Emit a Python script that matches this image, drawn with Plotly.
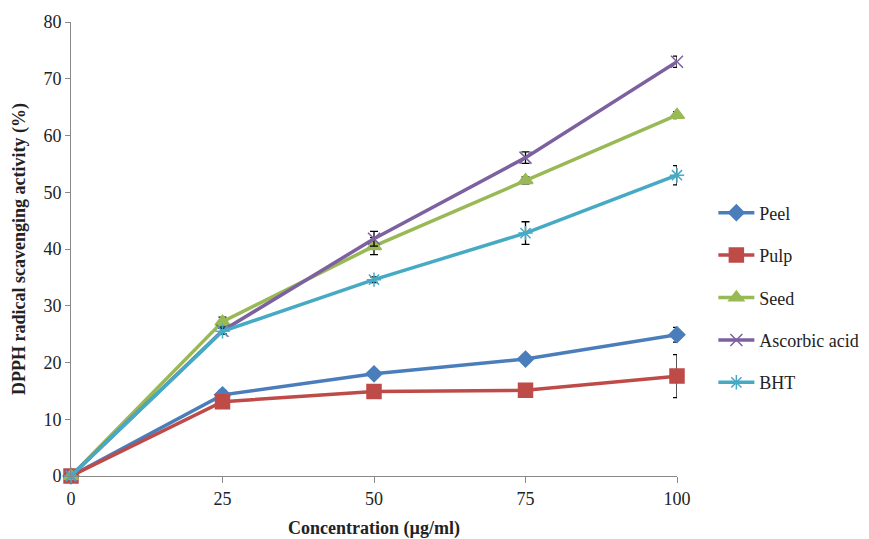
import plotly.graph_objects as go

conc = [0, 25, 50, 75, 100]
x_ticks = [0, 25, 50, 75, 100]
y_ticks = [0, 10, 20, 30, 40, 50, 60, 70, 80]

peel = [0, 14.3, 18.0, 20.6, 24.9]
peel_err = [0.3, 0.8, 0.6, 0.5, 1.3]
pulp = [0, 13.1, 14.9, 15.1, 17.6]
pulp_err = [0.3, 1.2, 0.5, 0.5, 3.8]
seed = [0, 27.2, 40.5, 52.1, 63.6]
seed_err = [0.3, 0.8, 1.5, 0.6, 0.6]
ascorbic = [0, 25.6, 41.8, 56.1, 73.0]
ascorbic_err = [0.3, 0.5, 1.3, 1.0, 1.0]
bht = [0, 25.5, 34.6, 42.8, 53.0]
bht_err = [0.3, 0.5, 0.5, 2.0, 1.7]

series = [
    ("Peel", peel, peel_err, "#4A7EBB", "diamond", 12),
    ("Pulp", pulp, pulp_err, "#BE4B48", "square", 14),
    ("Seed", seed, seed_err, "#98B954", "triangle-up", 13),
    ("Ascorbic acid", ascorbic, ascorbic_err, "#7D60A0", "x-thin", 12),
    ("BHT", bht, bht_err, "#46AAC5", "asterisk", 12),
]

fig = go.Figure()
for i, (name, vals, err, col, sym, sz) in enumerate(series):
    fig.add_trace(go.Scatter(
        x=conc, y=vals, name=name, mode="lines+markers",
        legendgroup=f"g{i}",
        line=dict(color=col, width=3.5),
        marker=dict(symbol=sym, size=sz, color=col,
                    line=dict(color=col, width=1.5)),
        error_y=dict(type="data", array=err, visible=True,
                     color="black", thickness=1.3, width=4),
        cliponaxis=False,
    ))

fig.update_layout(
    width=861, height=531,
    margin=dict(l=63, r=192, t=14, b=63, autoexpand=False),
    plot_bgcolor="white", paper_bgcolor="white",
    font=dict(family="Liberation Serif", size=17, color="#222222"),
    showlegend=True,
    legend=dict(x=1.06, y=0.62, xanchor="left", yanchor="top",
                traceorder="grouped", tracegroupgap=16,
                font=dict(family="Liberation Serif", size=18, color="#222222"),
                itemwidth=36),
)
fig.update_xaxes(
    range=[0, 100], tickvals=x_ticks, ticktext=[str(t) for t in x_ticks],
    showgrid=False, zeroline=False, showline=True, linecolor="#888888",
    linewidth=1, ticks="outside", tickcolor="#888888", ticklen=6,
    tickfont=dict(size=18), automargin=False,
    title=dict(text="<b>Concentration (µg/ml)</b>", standoff=13,
               font=dict(family="Liberation Serif", size=18)),
)
fig.update_yaxes(
    range=[0, 80], tickvals=y_ticks, ticktext=[str(t) for t in y_ticks],
    showgrid=False, zeroline=False, showline=True, linecolor="#888888",
    linewidth=1, ticks="outside", tickcolor="#888888", ticklen=5,
    tickfont=dict(size=18), automargin=False,
    title=dict(text="<b>DPPH radical scavenging activity (%)</b>", standoff=13,
               font=dict(family="Liberation Serif", size=18)),
)

fig.write_html("out.html")
